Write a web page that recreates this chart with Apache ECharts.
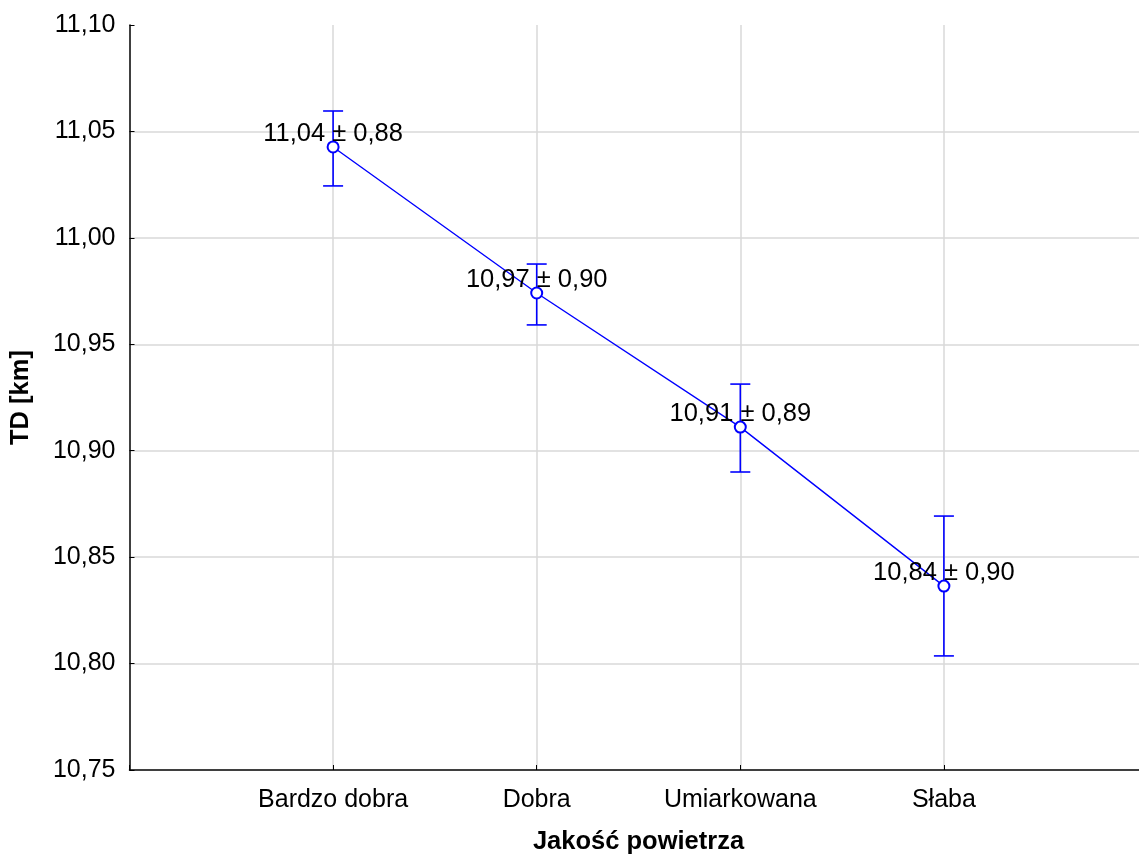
<!DOCTYPE html>
<html>
<head>
<meta charset="utf-8">
<script src="https://cdn.jsdelivr.net/npm/echarts@6/dist/echarts.min.js"></script>
<style>
html,body{margin:0;padding:0;background:#fff;}
#chart{width:1139px;height:855px;}
</style>
</head>
<body>
<div id="chart"></div>
<script>
var categories = ['Bardzo dobra', 'Dobra', 'Umiarkowana', 'Słaba'];
var means = [11.0427, 10.9741, 10.9111, 10.8364];
var errLow = [11.0244, 10.9591, 10.8900, 10.8036];
var errHigh = [11.0596, 10.9877, 10.9313, 10.8693];
var meanLabels = ['11,04', '10,97', '10,91', '10,84'];
var sdLabels = ['0,88', '0,90', '0,89', '0,90'];
var yTicks = [10.75, 10.80, 10.85, 10.90, 10.95, 11.00, 11.05, 11.10];

var FONT = '"Liberation Sans", Arial, sans-serif';
var BLUE = '#0000ff';

var lineData = categories.map(function (c, i) { return [i + 1, means[i]]; });
var errData = categories.map(function (c, i) { return [i + 1, errLow[i], errHigh[i]]; });

var chart = echarts.init(document.getElementById('chart'), null, {renderer: 'canvas'});
chart.setOption({
  backgroundColor: '#ffffff',
  animation: false,
  grid: {left: 129.5, top: 25, bottom: 85, width: 1018, containLabel: false, outerBoundsMode: 'none'},
  xAxis: {
    type: 'value', min: 0, max: 5, interval: 1,
    name: 'Jakość powietrza', nameLocation: 'middle', nameGap: 59,
    nameTextStyle: {fontFamily: FONT, fontSize: 25.5, fontWeight: 'bold', color: '#000'},
    axisLine: {show: true, lineStyle: {color: '#000', width: 1.5}},
    axisTick: {show: true, inside: true, length: 5, lineStyle: {color: '#000'}},
    axisLabel: {
      fontFamily: FONT, fontSize: 25, color: '#000', margin: 18,
      formatter: function (v) { return (v >= 1 && v <= categories.length) ? categories[v - 1] : ''; }
    },
    splitLine: {show: true, showMinLine: false, showMaxLine: false, lineStyle: {color: '#d9d9d9', width: 1.5}}
  },
  yAxis: {
    type: 'value', min: yTicks[0], max: yTicks[yTicks.length - 1], interval: 0.05,
    name: 'TD [km]', nameLocation: 'middle', nameGap: 96, nameRotate: 90,
    nameTextStyle: {fontFamily: FONT, fontSize: 25.5, fontWeight: 'bold', color: '#000'},
    axisLine: {show: true, lineStyle: {color: '#000', width: 1.5}},
    axisTick: {show: true, inside: true, length: 5, lineStyle: {color: '#000'}},
    axisLabel: {
      fontFamily: FONT, fontSize: 25, color: '#000', margin: 14,
      formatter: function (v) { return v.toFixed(2).replace('.', ','); }
    },
    splitLine: {show: true, showMinLine: false, showMaxLine: false, lineStyle: {color: '#d9d9d9', width: 1.5}}
  },
  series: [
    {
      type: 'custom',
      data: errData,
      z: 3,
      renderItem: function (params, api) {
        var x = api.value(0);
        var lo = api.coord([x, api.value(1)]);
        var hi = api.coord([x, api.value(2)]);
        var hw = 10;
        var st = {stroke: BLUE, lineWidth: 1.6};
        return {
          type: 'group',
          children: [
            {type: 'line', shape: {x1: lo[0], y1: lo[1], x2: hi[0], y2: hi[1]}, style: st},
            {type: 'line', shape: {x1: lo[0] - hw, y1: lo[1], x2: lo[0] + hw, y2: lo[1]}, style: st},
            {type: 'line', shape: {x1: hi[0] - hw, y1: hi[1], x2: hi[0] + hw, y2: hi[1]}, style: st}
          ]
        };
      }
    },
    {
      type: 'line',
      data: lineData,
      z: 4,
      symbol: 'emptyCircle',
      symbolSize: 11,
      lineStyle: {color: BLUE, width: 1.4},
      itemStyle: {color: BLUE, borderColor: BLUE, borderWidth: 1.4},
      label: {
        show: true,
        position: 'inside',
        offset: [0, -13],
        fontFamily: FONT, fontSize: 25.5, color: '#000',
        formatter: function (p) { return meanLabels[p.dataIndex] + ' ± ' + sdLabels[p.dataIndex]; }
      }
    }
  ]
});
</script>
</body>
</html>
